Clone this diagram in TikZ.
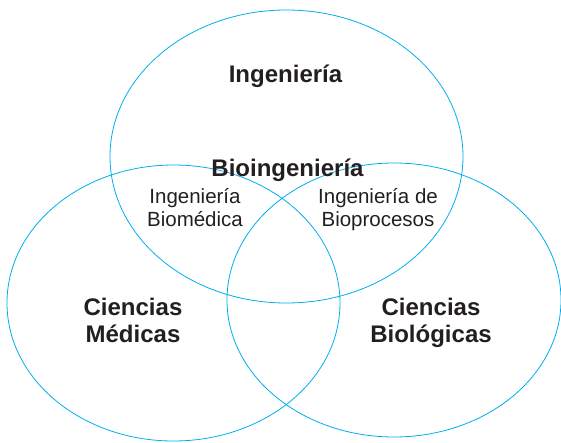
\documentclass[tikz,border=0pt]{standalone}
\usepackage{fontspec}
\setmainfont{Liberation Sans}
\usepackage{tikz}
\usetikzlibrary{shapes}
\definecolor{vennblue}{RGB}{0,174,239}
\definecolor{textgray}{RGB}{35,31,32}
\tikzset{field/.style={shape=ellipse, draw=vennblue, line width=0.8pt, inner sep=0pt},
  title/.style={font=\bfseries\fontsize{24}{27}\selectfont, text=textgray, align=center, inner sep=0pt},
  subfield/.style={font=\fontsize{20.5}{23}\selectfont, text=textgray, align=center, inner sep=0pt}}

\begin{document}
\begin{tikzpicture}[x=1pt, y=1pt]
    \useasboundingbox (0,0) rectangle (561,442);
    \node[field, minimum width=353pt, minimum height=293pt] (ing) at (286.5,285.5) {};
    \node[field, minimum width=333pt, minimum height=276pt] (med) at (173.5,139) {};
    \node[field, minimum width=334pt, minimum height=274pt] (bio) at (394,142) {};
    \node[title, anchor=base] (ingt) at (285.5,359) {Ingeniería};
    \node[title, anchor=base] (bioing) at (287.5,265) {Bioingeniería};
    \node[subfield, anchor=base] (biomed) at (195,215) {Ingeniería\\Biomédica};
    \node[subfield, anchor=base] (bioproc) at (378,215) {Ingeniería de\\Bioprocesos};
    \node[title, anchor=base] (medt) at (133,100) {Ciencias\\Médicas};
    \node[title, anchor=base] (biot) at (431,100) {Ciencias\\Biológicas};
  \end{tikzpicture}
\end{document}
